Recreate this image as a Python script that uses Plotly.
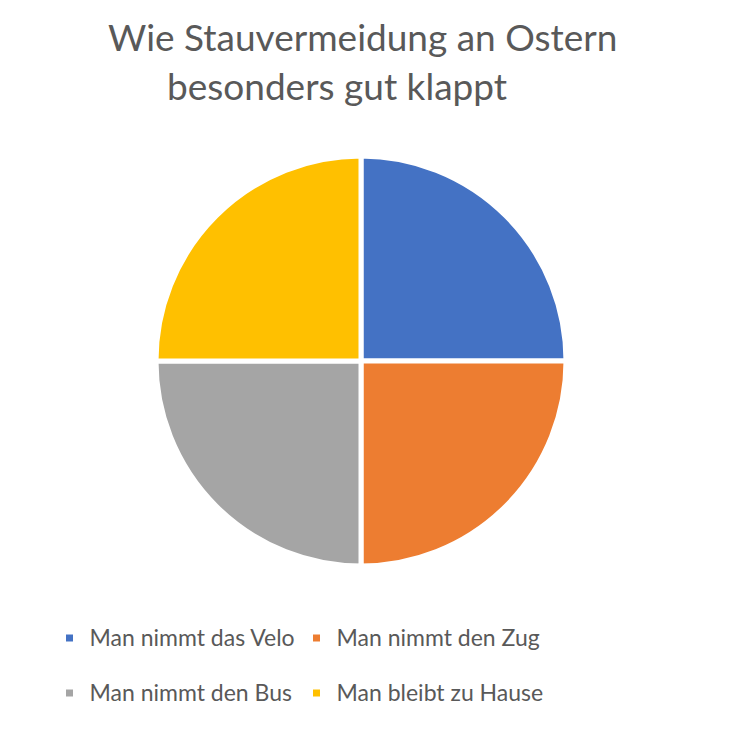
import plotly.graph_objects as go

labels = ["Man nimmt das Velo", "Man nimmt den Zug", "Man nimmt den Bus", "Man bleibt zu Hause"]
values = [25, 25, 25, 25]
colors = ["#4472C4", "#ED7D31", "#A5A5A5", "#FFC000"]
title_lines = ["Wie Stauvermeidung an Ostern", "besonders gut klappt"]

W, H = 750, 741
MR = 120                      # right margin so the legend wraps after two entries
PW = W - MR                   # plot-area width
cx, cy, r = 361, 361, 205

legend_labels = ["<span style='font-size:23px'>" + l + "</span><br> " for l in labels]

fig = go.Figure(go.Pie(
    labels=legend_labels, values=values, sort=False, direction="clockwise", rotation=0,
    marker=dict(colors=colors, line=dict(color="white", width=5)),
    textinfo="none", hoverinfo="percent",
    domain=dict(x=[(cx - r) / PW, (cx + r) / PW], y=[(H - cy - r) / H, (H - cy + r) / H]),
))

title_centers = [362, 337]
title_tops = [12, 61]
for line, xc, top in zip(title_lines, title_centers, title_tops):
    fig.add_annotation(text=line, xref="paper", yref="paper", x=xc / PW, y=1 - top / H,
                       xanchor="center", yanchor="top", showarrow=False,
                       font=dict(size=37, color="#595959", family="Lato"))

fig.update_layout(
    width=W, height=H,
    margin=dict(l=0, r=MR, t=0, b=0, autoexpand=False),
    paper_bgcolor="white",
    font=dict(family="Lato", color="#595959"),
    legend=dict(orientation="h", x=49.5 / PW, xanchor="left", y=1 - 618.5 / H, yanchor="top",
                font=dict(size=20, color="#595959", family="Lato"), valign="top",
                entrywidth=202, entrywidthmode="pixels", itemwidth=30),
    showlegend=True,
)

fig.write_html("out.html")
